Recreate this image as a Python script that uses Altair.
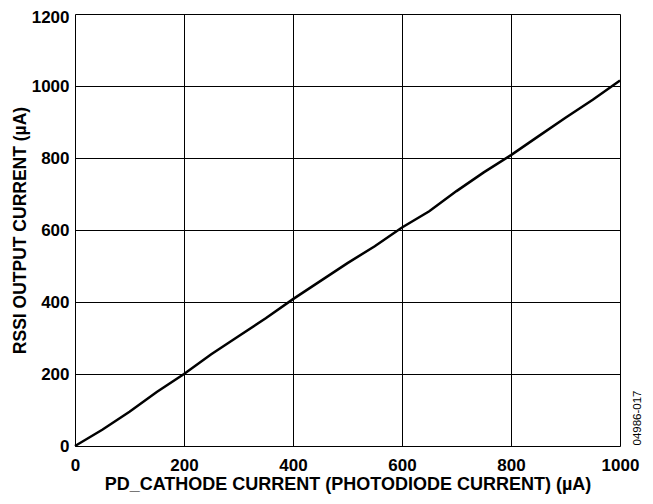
import altair as alt
import pandas as pd

x_vals = [0, 50, 100, 150, 200, 250, 300, 350, 400, 450, 500, 550, 600, 650, 700, 750, 800, 850, 900, 950, 1000]
y_vals = [0, 45, 95, 150, 200, 255, 305, 355, 408, 458, 508, 555, 607, 652, 708, 760, 808, 860, 912, 962, 1015]
x_ticks = [0, 200, 400, 600, 800, 1000]
y_ticks = [0, 200, 400, 600, 800, 1000, 1200]
note = "04986-017"

df = pd.DataFrame({"x": x_vals, "y": y_vals})

FONT = "Liberation Sans"

line = alt.Chart(df).mark_line(color="black", strokeWidth=2.5).encode(
    x=alt.X("x:Q", scale=alt.Scale(domain=[0, 1000], nice=False),
            axis=alt.Axis(values=x_ticks, title="PD_CATHODE CURRENT (PHOTODIODE CURRENT) (µA)",
                          format="d", grid=True, gridColor="black", gridWidth=1, gridOpacity=1,
                          domain=False, ticks=False, labelFont=FONT, labelFontSize=17,
                          labelFontWeight="bold", labelColor="black", labelPadding=11,
                          titleFont=FONT, titleFontSize=18, titleFontWeight="bold",
                          titleColor="black", titlePadding=2, labelFlush=False)),
    y=alt.Y("y:Q", scale=alt.Scale(domain=[0, 1200], nice=False),
            axis=alt.Axis(values=y_ticks, title="RSSI OUTPUT CURRENT (µA)",
                          format="d", grid=True, gridColor="black", gridWidth=1, gridOpacity=1,
                          domain=False, ticks=False, labelFont=FONT, labelFontSize=17,
                          labelFontWeight="bold", labelColor="black", labelPadding=6,
                          labelOffset={"condition": {"test": "datum.value == 1200", "value": 3}, "value": 0},
                          titleFont=FONT, titleFontSize=17.5, titleFontWeight="bold",
                          titleColor="black", titlePadding=2, labelFlush=False)),
)

side = alt.Chart(pd.DataFrame({"t": [note]})).mark_text(
    angle=270, font=FONT, fontSize=11.5, color="black", align="center", baseline="middle"
).encode(text="t:N", x=alt.value(563), y=alt.value(404))

chart = alt.layer(line, side).properties(
    width=545, height=432,
    autosize=alt.AutoSizeParams(type="none"),
    padding={"left": 67, "top": 6, "right": 22, "bottom": 49},
).configure_view(stroke="black", strokeWidth=2).configure(background="white")

chart.save("out.html", embed_options={"renderer": "svg", "actions": False})
